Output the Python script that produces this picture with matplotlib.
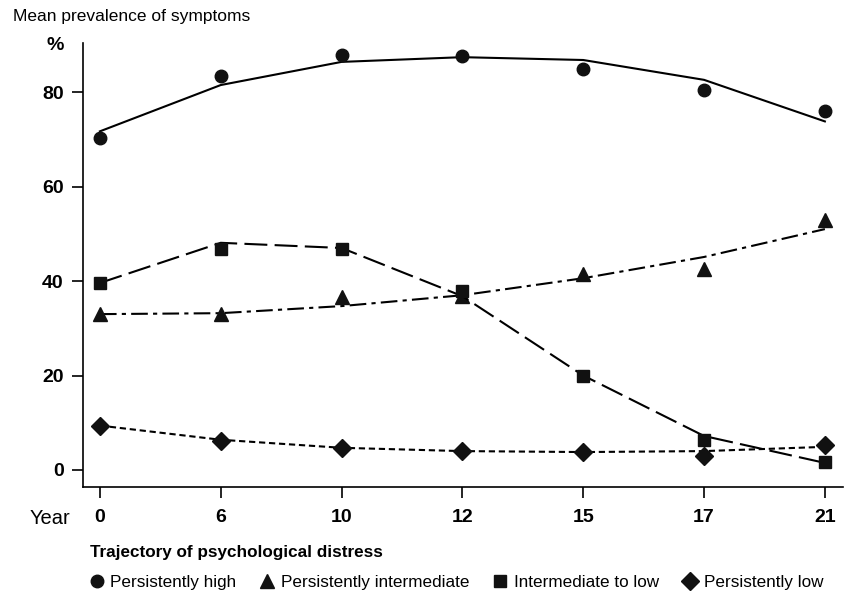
import matplotlib.pyplot as plt
from matplotlib.lines import Line2D

plt.rcParams['font.family'] = ['Liberation Sans', 'DejaVu Sans']

years = ['0', '6', '10', '12', '15', '17', '21']
series = ['Persistently high', 'Persistently intermediate',
          'Intermediate to low', 'Persistently low']

# observed values (markers)
high_obs = [70.2, 83.4, 87.9, 87.7, 84.9, 80.4, 76.0]
inter_obs = [33.0, 33.0, 36.6, 36.8, 41.5, 42.5, 53.0]
to_low_obs = [39.6, 46.8, 46.8, 37.9, 20.0, 6.4, 1.7]
low_obs = [9.4, 6.2, 4.7, 4.0, 3.8, 3.0, 5.3]

# fitted trajectories (lines)
high_fit = [71.7, 81.5, 86.4, 87.4, 86.8, 82.6, 73.8]
inter_fit = [33.0, 33.2, 34.7, 37.0, 40.6, 45.1, 51.0]
to_low_fit = [39.6, 48.1, 47.0, 36.8, 20.0, 7.2, 1.5]
low_fit = [9.4, 6.4, 4.7, 4.0, 3.8, 4.0, 4.9]

obs = [high_obs, inter_obs, to_low_obs, low_obs]
fit = [high_fit, inter_fit, to_low_fit, low_fit]
markers = ['o', '^', 's', 'D']
msizes = [9, 10, 8.5, 9]
styles = ['-', (0, (8, 2.5, 2, 2.5)), (0, (11, 3.5)), (0, (3, 1.8))]

fig = plt.figure(figsize=(8.49, 5.92), dpi=100)
ax = fig.add_axes([83 / 849, 1 - 487 / 592, 760 / 849, 444 / 592])

x = list(range(len(years)))
for o, f, m, ms, ls in zip(obs, fit, markers, msizes, styles):
    ax.plot(x, f, color='black', linestyle=ls, linewidth=1.5)
    ax.plot(x, o, linestyle='none', marker=m, markersize=ms,
            color='#111111')

ax.set_xlim(-0.14, 6.15)
ax.set_ylim(-3.6, 90.4)
ax.set_xticks(x)
ax.set_xticklabels(years)
ax.set_yticks([0, 20, 40, 60, 80])
for s in ['top', 'right']:
    ax.spines[s].set_visible(False)
for s in ['left', 'bottom']:
    ax.spines[s].set_linewidth(1.2)
ax.tick_params(length=8, width=1.2, labelsize=14)
ax.tick_params(axis='x', pad=8)
ax.tick_params(axis='y', pad=6)
for lbl in ax.get_xticklabels() + ax.get_yticklabels():
    lbl.set_fontweight('bold')

fig.text(13 / 849, 1 - 17 / 592, 'Mean prevalence of symptoms',
         fontsize=12.5, va='center', ha='left')
fig.text(55 / 849, 1 - 46 / 592, '%', fontsize=14, fontweight='bold',
         va='center', ha='center')
fig.text(50 / 849, 1 - 518 / 592, 'Year', fontsize=14.5,
         va='center', ha='center')

handles = [Line2D([], [], linestyle='none', marker=m, markersize=ms,
                  color='#111111') for m, ms in zip(markers, msizes)]
leg = fig.legend(handles, series, ncol=4, loc='upper left',
                 bbox_to_anchor=(90 / 849, 1 - 545 / 592),
                 frameon=False, fontsize=12.3, handlelength=0.8,
                 handletextpad=0.4, columnspacing=1.4,
                 labelspacing=0.3,
                 title='Trajectory of psychological distress',
                 title_fontproperties={'weight': 'bold', 'size': 12.3},
                 alignment='left', borderpad=0, borderaxespad=0)
leg._legend_box.sep = 11

fig.savefig('out.png', dpi=100)
